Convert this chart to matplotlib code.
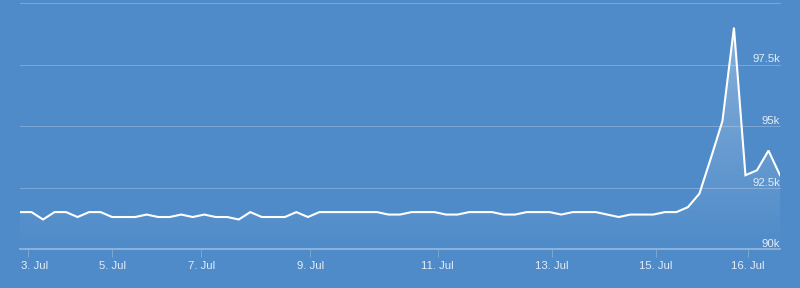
import matplotlib
matplotlib.use("Agg")
import matplotlib.pyplot as plt
import matplotlib.transforms as mtransforms
from matplotlib.patches import Polygon
import numpy as np

# ---- data (values in thousands, evenly spaced ordinal points) ----
values_k = [91.5, 91.5, 91.2, 91.5, 91.5, 91.3, 91.5, 91.5, 91.3, 91.3,
            91.3, 91.4, 91.3, 91.3, 91.4, 91.3, 91.4, 91.3, 91.3, 91.2,
            91.5, 91.3, 91.3, 91.3, 91.5, 91.3, 91.5, 91.5, 91.5, 91.5,
            91.5, 91.5, 91.4, 91.4, 91.5, 91.5, 91.5, 91.4, 91.4, 91.5,
            91.5, 91.5, 91.4, 91.4, 91.5, 91.5, 91.5, 91.4, 91.5, 91.5,
            91.5, 91.4, 91.3, 91.4, 91.4, 91.4, 91.5, 91.5, 91.7, 92.25,
            93.7, 95.2, 99.0, 93.0, 93.2, 94.0, 93.0]
tick_labels = ["3. Jul", "5. Jul", "7. Jul", "9. Jul", "11. Jul",
               "13. Jul", "15. Jul", "16. Jul"]
tick_pos = [0.7, 8.0, 15.74, 25.2, 36.26, 46.17, 55.2, 63.2]
y_ticks = [90000, 92500, 95000, 97500, 100000]
y_labels = ["90k", "92.5k", "95k", "97.5k", ""]

BG = "#4f8bc9"
GRID = "#7aa7d6"
TXT = "#e3edf8"
FONT = "Liberation Sans"
FS = 8.2

x = np.arange(len(values_k))
y = np.array(values_k) * 1000

fig = plt.figure(figsize=(8, 2.88), dpi=100, facecolor=BG)
ax = fig.add_axes([20/800, 39/288, 760/800, 246/288])
ax.set_facecolor(BG)

# grid
for v in y_ticks[1:]:
    ax.axhline(v, color=GRID, lw=0.75, zorder=1, clip_on=False)

# gradient fill under line
ymin, ymax = 90000, 100000
grad = np.linspace(0.35, 0.0, 256).reshape(-1, 1)
rgba = np.ones((256, 1, 4))
rgba[..., 3] = grad
im = ax.imshow(rgba, aspect="auto", extent=[x[0], x[-1], ymin, ymax],
               origin="upper", zorder=2)
verts = np.vstack([np.column_stack([x, y]), [[x[-1], ymin], [x[0], ymin]]])
clip = Polygon(verts, closed=True, transform=ax.transData,
               facecolor="none", edgecolor="none")
ax.add_patch(clip)
im.set_clip_path(clip)
ax.set_xlim(0, len(values_k) - 1)
ax.set_ylim(ymin, ymax)

ax.plot(x, y, color="white", lw=1.5, zorder=4, solid_joinstyle="miter")

# spines
for s in ["top", "left", "right"]:
    ax.spines[s].set_visible(False)
ax.spines["bottom"].set_color("#8cb2dc")
ax.spines["bottom"].set_linewidth(1.4)

# y labels inside right
ax.set_yticks([])
for v, lab in zip(y_ticks, y_labels):
    if lab:
        ax.annotate(lab, xy=(1.0, v), xycoords=("axes fraction", "data"),
                    xytext=(0, 2), textcoords="offset pixels",
                    ha="right", va="baseline", color=TXT, fontsize=FS,
                    family=FONT)

ax.set_xticks(tick_pos)
ax.set_xticklabels(tick_labels, color=TXT, fontsize=FS, family=FONT)
ax.tick_params(axis="x", length=5.8, width=0.75, color=GRID, pad=2.5)
lab0 = ax.get_xticklabels()[0]
lab0.set_horizontalalignment("left")
lab0.set_transform(lab0.get_transform() +
                   mtransforms.ScaledTranslation(-7.5/100, 0, fig.dpi_scale_trans))

fig.savefig("out.png", dpi=100, facecolor=BG)
